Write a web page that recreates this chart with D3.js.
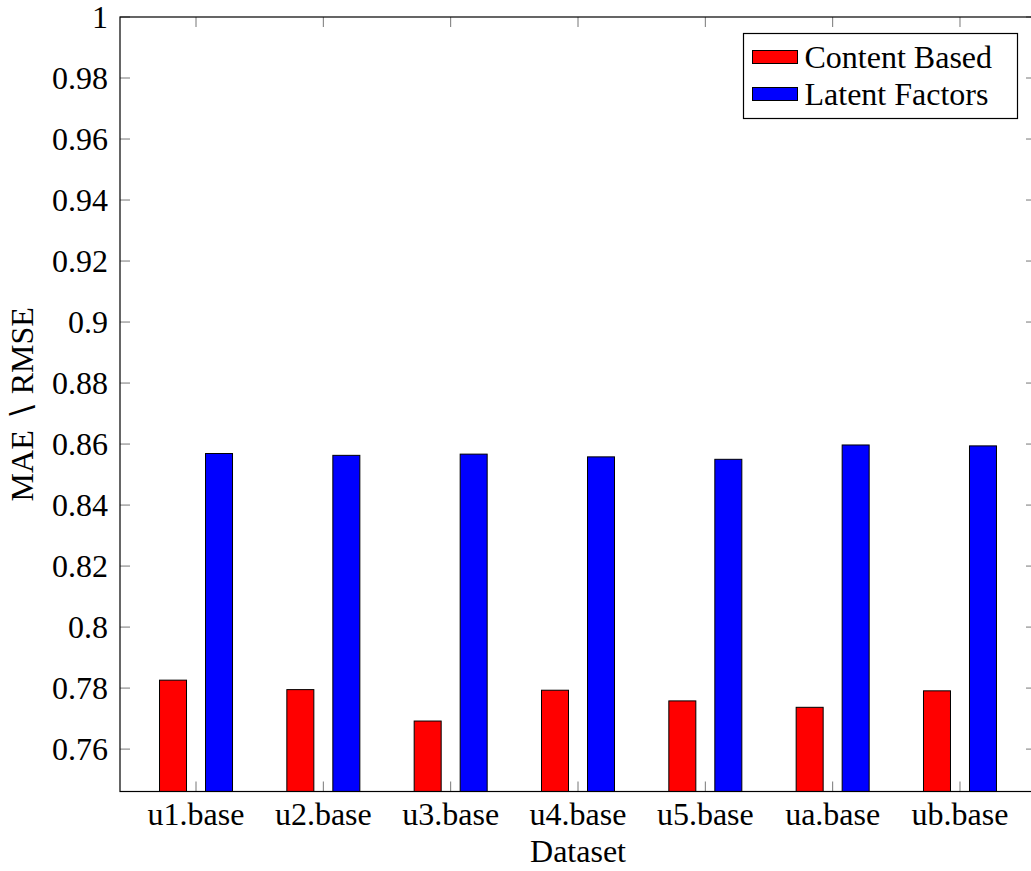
<!DOCTYPE html>
<html>
<head>
<meta charset="utf-8">
<script src="https://cdn.jsdelivr.net/npm/d3@7"></script>
</head>
<body style="margin:0">
<script>
// data
const categories = ['u1.base', 'u2.base', 'u3.base', 'u4.base', 'u5.base', 'ua.base', 'ub.base'];
const contentBased = [0.7826, 0.7795, 0.7692, 0.7793, 0.7758, 0.7737, 0.7791];
const latentFactors = [0.8569, 0.8563, 0.8567, 0.8558, 0.8550, 0.8597, 0.8594];
const seriesNames = ['Content Based', 'Latent Factors'];
const seriesColors = ['#ff0000', '#0000ff'];
const yTicks = [0.76, 0.78, 0.8, 0.82, 0.84, 0.86, 0.88, 0.9, 0.92, 0.94, 0.96, 0.98, 1];

const svgWidth = 1031;
const svgHeight = 871;

// plot box (right edge runs past the picture, as in the reference)
const plot = { left: 120, right: 1036, top: 17, bottom: 791.5 };
const tickLen = 10;
const fontSize = 32;
const fontFamily = 'Liberation Serif';

const svg = d3.select('body')
  .append('svg')
  .attr('width', svgWidth)
  .attr('height', svgHeight);

// every label goes through here so the serif face is set on the element itself
const addText = (parent, str) => parent.append('text')
  .attr('font-family', fontFamily)
  .style('font-family', fontFamily)
  .attr('font-size', fontSize)
  .text(str);

const xScale = d3.scalePoint()
  .domain(categories)
  .range([plot.left, plot.right])
  .padding(0.597);

const yScale = d3.scaleLinear()
  .domain([0.7461, 1])
  .range([plot.bottom, plot.top]);

const barWidth = 27;
const barOffset = [-23, 23];
const series = [contentBased, latentFactors];

// bars
series.forEach((values, s) => {
  svg.append('g')
    .selectAll('rect')
    .data(values)
    .join('rect')
    .attr('x', (d, i) => xScale(categories[i]) + barOffset[s] - barWidth / 2)
    .attr('y', d => yScale(d))
    .attr('width', barWidth)
    .attr('height', d => plot.bottom - yScale(d))
    .attr('fill', seriesColors[s])
    .attr('stroke', 'black')
    .attr('stroke-width', 1);
});

// ticks (inward, on all four sides)
const tickColor = '#777';
const ticks = svg.append('g').attr('stroke', tickColor).attr('stroke-width', 1);
yTicks.forEach(t => {
  const y = yScale(t);
  ticks.append('line').attr('x1', plot.left).attr('x2', plot.left + tickLen).attr('y1', y).attr('y2', y);
  ticks.append('line').attr('x1', plot.right).attr('x2', plot.right - tickLen).attr('y1', y).attr('y2', y);
});
categories.forEach(c => {
  const x = xScale(c);
  ticks.append('line').attr('x1', x).attr('x2', x).attr('y1', plot.top).attr('y2', plot.top + tickLen);
  ticks.append('line').attr('x1', x).attr('x2', x).attr('y1', plot.bottom).attr('y2', plot.bottom - tickLen);
});

// frame
svg.append('rect')
  .attr('x', plot.left)
  .attr('y', plot.top)
  .attr('width', plot.right - plot.left)
  .attr('height', plot.bottom - plot.top)
  .attr('fill', 'none')
  .attr('stroke', 'black')
  .attr('stroke-width', 1.2);

// tick labels
const fmt = d3.format('~g');
const yLabels = svg.append('g');
yTicks.forEach(t => {
  addText(yLabels, fmt(t))
    .attr('x', plot.left - 12)
    .attr('y', yScale(t) + 11)
    .attr('text-anchor', 'end');
});

const xLabels = svg.append('g');
categories.forEach(c => {
  addText(xLabels, c)
    .attr('x', xScale(c))
    .attr('y', 825)
    .attr('text-anchor', 'middle');
});

// axis titles
addText(svg, 'Dataset')
  .attr('x', (plot.left + plot.right) / 2)
  .attr('y', 862)
  .attr('text-anchor', 'middle');

addText(svg, 'MAE \u2216 RMSE')
  .attr('transform', `translate(33,${(plot.top + plot.bottom) / 2}) rotate(-90)`)
  .attr('text-anchor', 'middle');

// legend
const legend = svg.append('g').attr('transform', 'translate(743.5,33.5)');
legend.append('rect')
  .attr('width', 274)
  .attr('height', 85)
  .attr('fill', 'white')
  .attr('stroke', 'black')
  .attr('stroke-width', 1.2);
seriesNames.forEach((name, i) => {
  const cy = 24 + i * 37;
  legend.append('rect')
    .attr('x', 9)
    .attr('y', cy - 7)
    .attr('width', 45)
    .attr('height', 13)
    .attr('fill', seriesColors[i])
    .attr('stroke', 'black')
    .attr('stroke-width', 1);
  addText(legend, name)
    .attr('x', 61)
    .attr('y', cy + 10);
});
</script>
</body>
</html>
